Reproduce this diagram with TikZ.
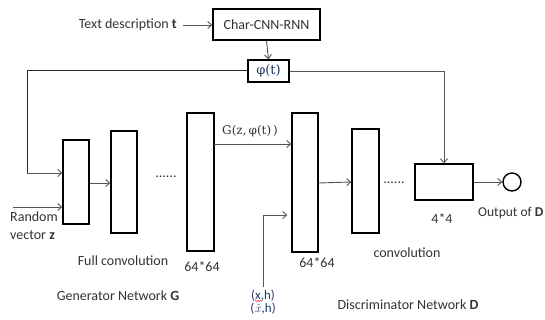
\documentclass[tikz,border=0pt]{standalone}
\usepackage{fontspec}
\setmainfont{Carlito}
\usetikzlibrary{arrows.meta,decorations.pathmorphing}
\definecolor{txt}{HTML}{333333}
\definecolor{mathblue}{HTML}{1F3864}
\definecolor{arrgray}{HTML}{555555}
\begin{document}
\begin{tikzpicture}[x=1pt,y=-1pt,
  every node/.style={font=\fontsize{14}{16}\selectfont, text=txt, inner sep=0pt},
  blk/.style={draw=black, line width=1.4pt, minimum width=#1},
  blk/.default=26pt,
  arr/.style={draw=arrgray, line width=0.9pt, -{Straight Barb[length=4pt,width=7pt]}},
  ln/.style={draw=black!85, line width=1pt}
]
\useasboundingbox (0,0) rectangle (545,320);

% boxes
\node[blk=107pt, minimum height=31pt, inner sep=2pt] (cnn) at (266.5,24.5) {Char-CNN-RNN};
\node[blk=41pt, minimum height=22pt, text=mathblue] (phi) at (268.5,71) {\fontspec{DejaVu Serif}\fontsize{13}{15}\selectfont φ(t)};
\node[blk, minimum height=84pt] (g1) at (76,182) {};
\node[blk, minimum height=102pt] (g2) at (124,182) {};
\node[blk=27pt, minimum height=138pt] (g3) at (200.5,182) {};
\node[blk, minimum height=139pt] (d1) at (305,182.5) {};
\node[blk=27pt, minimum height=104pt] (d2) at (365.5,181) {};
\node[blk=58pt, minimum height=36pt] (d4) at (444,182) {};
\node[draw=black, line width=1.4pt, circle, minimum size=18pt] (out) at (512,182) {};

% texts
\node[anchor=east] (tdesc) at (177,25) {Text description \textbf{t}};
\node[anchor=west, align=left, font=\fontsize{14}{18}\selectfont] (rv) at (10,226) {Random\\vector \textbf{z}};
\node (fc) at (123,261) {Full convolution};
\node (g64) at (202,267) {64*64};
\node (gn) at (118,296) {Generator Network \textbf{G}};
\node[anchor=west] (glab) at (222,131) {\fontspec{DejaVu Serif}\fontsize{12}{14}\selectfont G(z,\,φ(t)\,)};
\node[align=center, text=mathblue, font=\fontsize{13}{13}\selectfont] (xh) at (263,302) {(x,h)\\(\kern0.8pt$\hat{x}$,h)};
\node (d64) at (317,263) {64*64};
\node (conv) at (407,253) {convolution};
\node (f44) at (442,219) {4*4};
\node[anchor=west, font=\fontsize{13.5}{16}\selectfont] (outl) at (478,213) {Output of \textbf{D}};
\node (dn) at (408,305) {Discriminator Network \textbf{D}};
\node[anchor=base] (dots1) at (166,178) {......};
\node[anchor=base] (dots2) at (394,184) {......};

% red wavy underline (spell-check mark)
\draw[red, line width=0.5pt, decorate, decoration={snake, amplitude=0.5pt, segment length=2.5pt}] (255,301) -- (262,301);

% connectors
\draw[arr] (tdesc.east) ++(6,0) coordinate (ts) -- (cnn.west |- ts);
\draw[arr] (cnn.south) -- (phi.north);
\coordinate (lc) at (27,173);
\draw[ln] (phi.west) -| (lc);
\draw[arr] (lc) -- (lc -| g1.west);
\draw[arr] (phi.east) -| (d4.north);
\coordinate (rz) at (13,207);
\draw[arr] (rz) -- (rz -| g1.west);
\draw[arr] (g1.east |- 0,183) -- (g2.west |- 0,183);
\coordinate (gz) at (214,144);
\draw[arr] (gz) -- (gz -| d1.west);
\coordinate (xs) at (263,287);
\draw[arr] (xs) |- ([xshift=-4pt]d1.west |- 0,215);
\draw[arr] (d1.east |- 0,183) -- (d2.west |- 0,182);
\draw[arr] (d4.east) -- (out.west);
\end{tikzpicture}
\end{document}
